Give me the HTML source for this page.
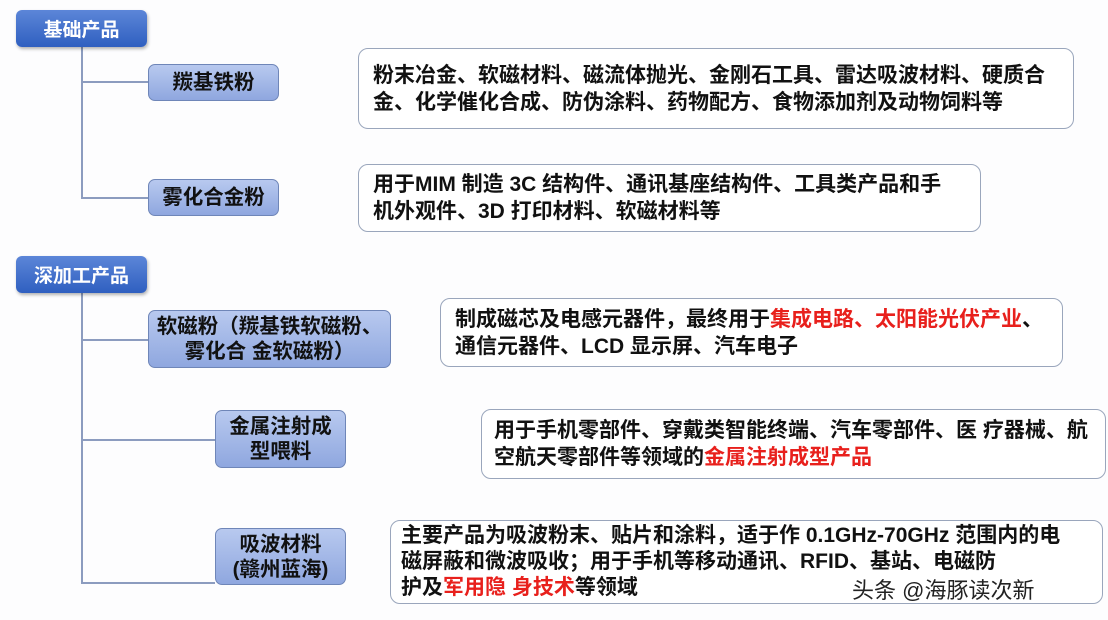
<!DOCTYPE html>
<html><head><meta charset="utf-8"><style>
body{margin:0;width:1108px;height:620px;background:#fdfdfe;position:relative;overflow:hidden;font-family:"Liberation Sans","Noto Sans CJK SC",sans-serif;font-weight:bold;}
.a{position:absolute;box-sizing:border-box}
.h{background:linear-gradient(#5c86d8,#2f5fc0);border-radius:6px;color:#fff;font-size:19px;display:flex;align-items:center;justify-content:center;box-shadow:1px 2px 3px rgba(0,0,0,.3)}
.s{background:linear-gradient(#b8c9ef,#8fa7df);border:1.5px solid #6f86b8;border-radius:7px;color:#111;font-size:20.5px;display:flex;align-items:center;justify-content:center;text-align:center;line-height:25px;white-space:nowrap}
.t{background:#fff;border:1.5px solid #9aa6bc;border-radius:10px;color:#111;font-size:21px;line-height:27px;padding:0 0 0 14px;display:flex;align-items:center;white-space:nowrap}
.l{position:absolute;background:#8c9cbf}
.r{color:#e8201c}
</style></head><body>
<div class="l" style="left:81px;top:47px;width:2px;height:152px"></div>
<div class="l" style="left:81px;top:81px;width:67px;height:2px"></div>
<div class="l" style="left:81px;top:197px;width:67px;height:2px"></div>
<div class="l" style="left:81px;top:293px;width:2px;height:291px"></div>
<div class="l" style="left:81px;top:339px;width:67px;height:2px"></div>
<div class="l" style="left:81px;top:439px;width:134px;height:2px"></div>
<div class="l" style="left:81px;top:582px;width:134px;height:2px"></div>

<div class="a h" style="left:16px;top:10px;width:131px;height:37px">基础产品</div>
<div class="a s" style="left:148px;top:64px;width:131px;height:37px">羰基铁粉</div>
<div class="a s" style="left:148px;top:179px;width:131px;height:37px">雾化合金粉</div>
<div class="a t" style="left:358px;top:48px;width:716px;height:81px"><div>粉末冶金、软磁材料、磁流体抛光、金刚石工具、雷达吸波材料、硬质合<br>金、化学催化合成、防伪涂料、药物配方、食物添加剂及动物饲料等</div></div>
<div class="a t" style="left:358px;top:164px;width:623px;height:68px"><div>用于MIM 制造 3C 结构件、通讯基座结构件、工具类产品和手<br>机外观件、3D 打印材料、软磁材料等</div></div>

<div class="a h" style="left:16px;top:256px;width:131px;height:37px">深加工产品</div>
<div class="a s" style="left:148px;top:310px;width:243px;height:58px"><div>软磁粉（羰基铁软磁粉、<br>雾化合 金软磁粉）</div></div>
<div class="a s" style="left:215px;top:410px;width:131px;height:58px"><div>金属注射成<br>型喂料</div></div>
<div class="a s" style="left:215px;top:528px;width:131px;height:57px"><div>吸波材料<br>(赣州蓝海)</div></div>
<div class="a t" style="left:440px;top:298px;width:623px;height:69px"><div>制成磁芯及电感元器件，最终用于<span class="r">集成电路、太阳能光伏产业</span>、<br>通信元器件、LCD 显示屏、汽车电子</div></div>
<div class="a t" style="left:481px;top:409px;width:625px;height:70px;padding-left:12px"><div>用于手机零部件、穿戴类智能终端、汽车零部件、医 疗器械、航<br>空航天零部件等领域的<span class="r">金属注射成型产品</span></div></div>
<div class="a t" style="left:390px;top:520px;width:713px;height:84px;padding-left:10px;line-height:26px"><div>主要产品为吸波粉末、贴片和涂料，适于作 0.1GHz-70GHz 范围内的电<br>磁屏蔽和微波吸收；用于手机等移动通讯、RFID、基站、电磁防<br>护及<span class="r">军用隐 身技术</span>等领域</div></div>
<div class="a" style="left:852px;top:573px;font-size:22px;font-weight:normal;color:#222;text-shadow:0 0 2px #fff">头条 @海豚读次新</div>
</body></html>
